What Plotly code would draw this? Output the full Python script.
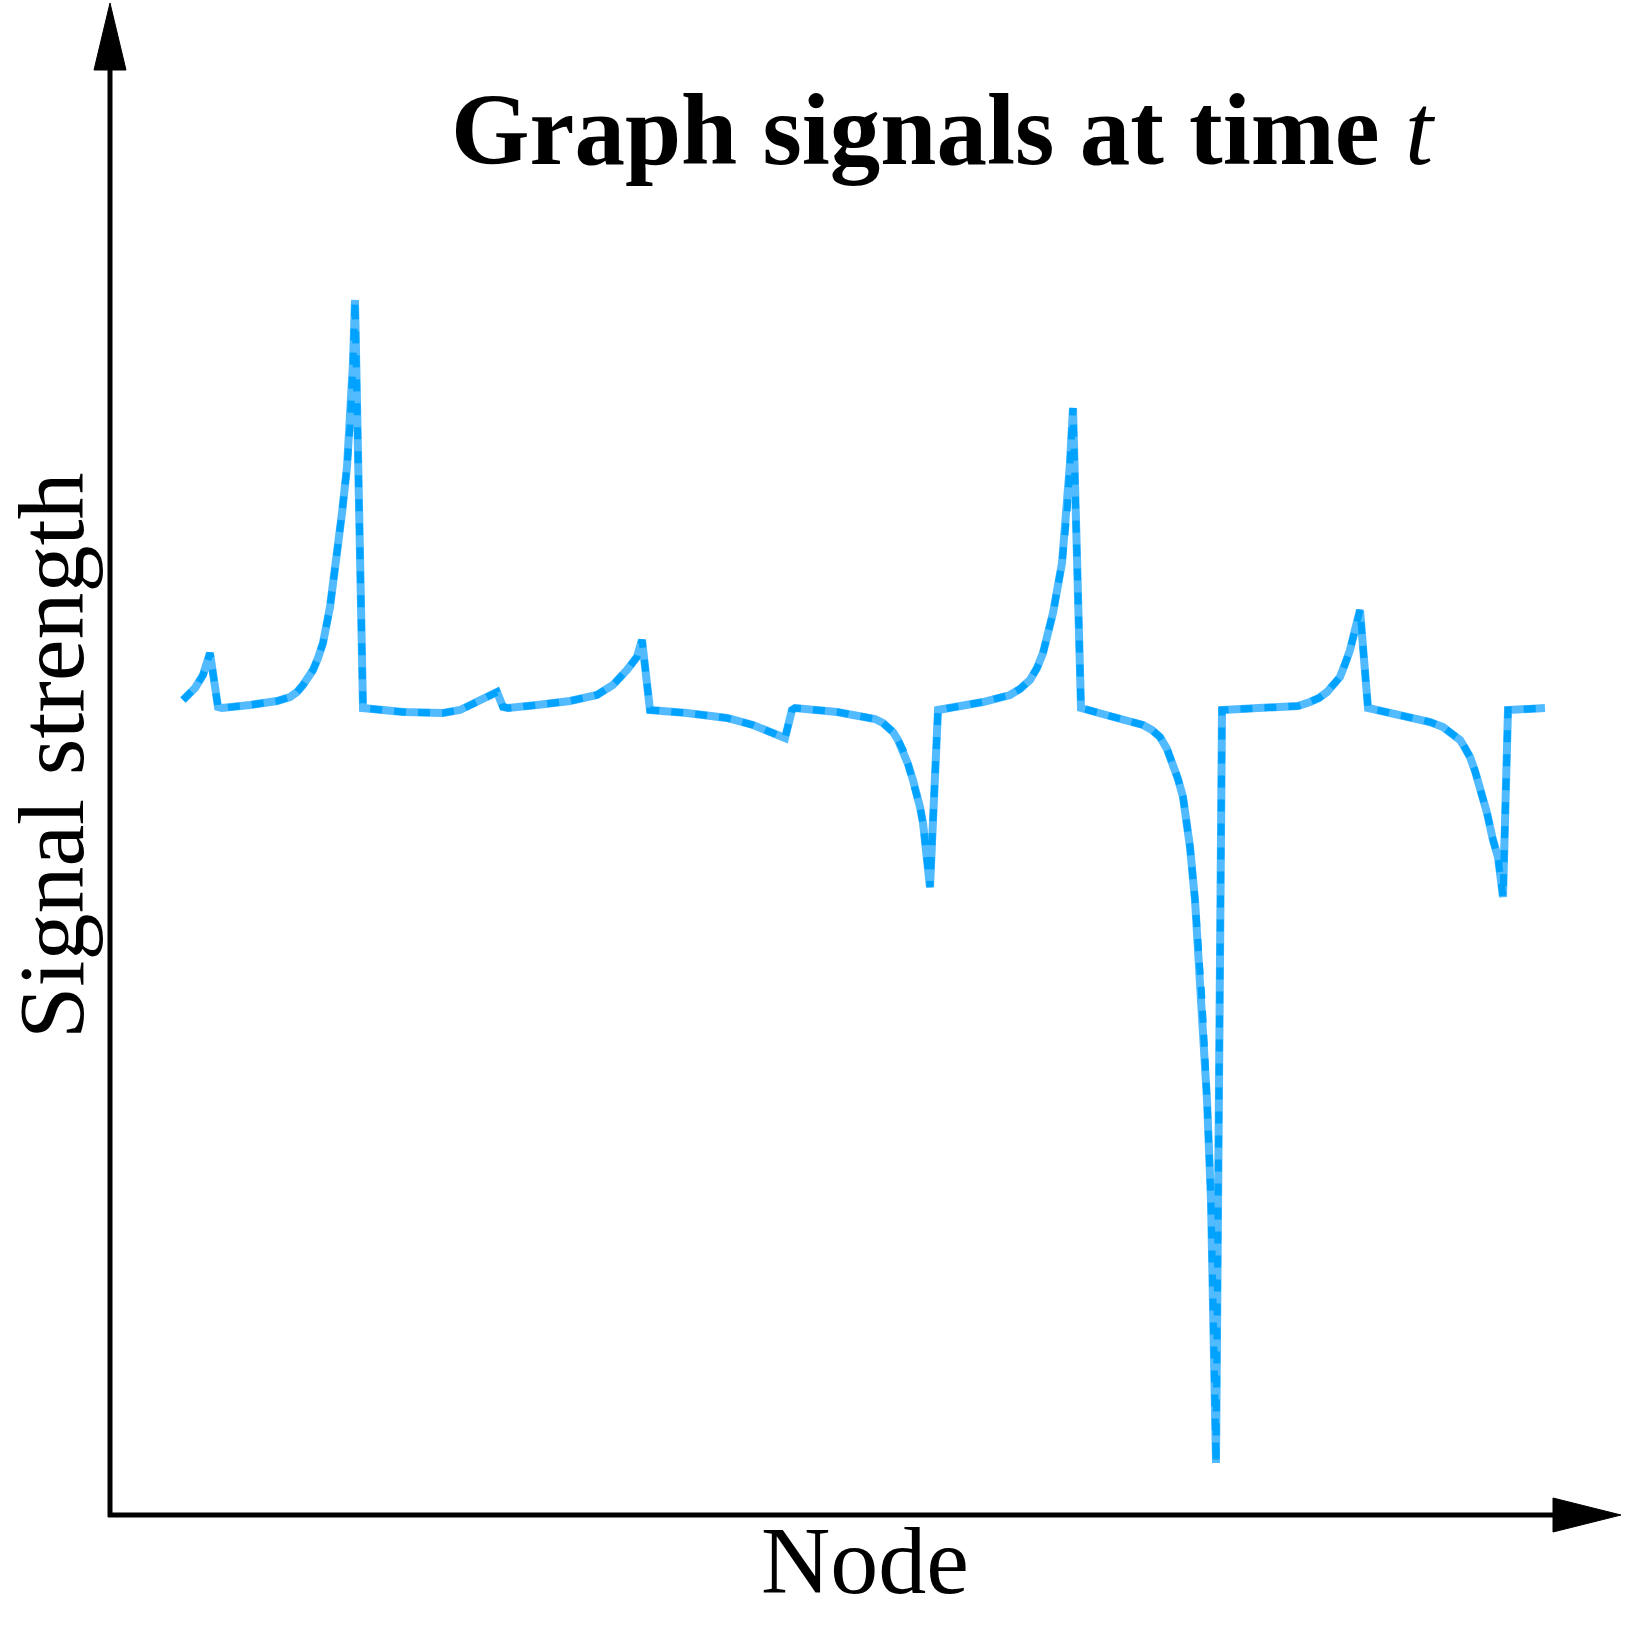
import plotly.graph_objects as go

# ---- data (node position, signal strength) ----
node = [7.3, 8.5, 9.3, 10.0, 10.8, 11.2, 14.0, 16.7, 18.0, 18.7, 19.3, 19.8, 20.3, 20.8, 21.3,
        22.0, 22.7, 23.2, 23.7, 24.0, 24.3, 24.5, 25.3, 29.3, 33.3, 35.0, 36.7, 38.7, 39.3,
        39.8, 42.7, 46.0, 48.7, 50.3, 51.7, 52.7, 53.2, 54.0, 57.7, 61.7, 64.3, 65.7, 67.5,
        68.2, 68.5, 72.7, 75.7, 76.5, 77.3, 77.8, 78.3, 78.8, 79.3, 79.8, 80.3, 80.7, 81.0,
        81.3, 81.5, 81.8, 82.0, 82.8, 87.3, 90.0, 91.0, 92.0, 92.7, 93.3, 93.8, 94.3, 95.2,
        95.7, 96.0, 96.3, 97.1, 100.7, 102.0, 103.3, 104.2, 105.0, 105.7, 106.3, 106.8, 107.3,
        107.7, 108.0, 108.5, 109.2, 109.7, 110.1, 110.3, 110.5, 110.6, 111.2, 117.3, 118.8,
        120.0, 120.9, 121.7, 122.4, 123.0, 123.5, 124.0, 124.5, 125.0, 125.8, 130.7, 132.0,
        133.3, 134.2, 135.0, 135.5, 136.0, 136.5, 137.0, 137.7, 138.3, 138.8, 139.3, 139.8,
        143.5]
signal = [0.8, 2.0, 3.3, 5.5, 0.1, 0.0, 0.3, 0.7, 1.1, 1.6, 2.3, 3.0, 3.8, 5.0, 6.5,
          10.1, 15.1, 19.5, 24.1, 28.1, 34.5, 40.8, 0.0, -0.4, -0.5, -0.2, 0.6, 1.6, 0.1,
          0.0, 0.3, 0.7, 1.3, 2.3, 3.8, 5.1, 6.8, -0.2, -0.5, -1.0, -1.7, -2.2, -3.0,
          -0.2, 0.0, -0.4, -0.9, -1.1, -1.5, -1.9, -2.4, -3.2, -4.2, -5.6, -7.2, -8.5, -9.9,
          -11.5, -13.2, -15.4, -17.9, -0.2, 0.6, 1.3, 1.9, 2.8, 4.0, 5.5, 7.4, 9.5, 14.5,
          19.5, 24.5, 30.0, 0.0, -1.0, -1.3, -1.7, -2.2, -2.9, -4.1, -5.5, -7.1, -8.9,
          -11.2, -13.9, -19.2, -29.2, -39.2, -49.2, -59.2, -69.2, -75.5, -0.2, 0.0, 0.2,
          0.6, 1.0, 1.6, 2.3, 3.1, 4.4, 5.8, 7.8, 9.8, 0.0, -1.0, -1.4,
          -1.9, -2.5, -3.2, -4.0, -4.9, -6.3, -7.9, -10.5, -13.2, -14.9, -18.9, -0.2,
          0.0]

title_text = "<b>Graph signals at time </b><i>t</i>"
x_title = "Node"
y_title = "Signal strength"

W = H = 1625
FONT = "Liberation Serif"

fig = go.Figure()
fig.add_trace(go.Scatter(x=node, y=signal, mode="lines",
                         line=dict(color="#52BAFE", width=8), hoverinfo="skip"))
fig.add_trace(go.Scatter(x=node, y=signal, mode="lines",
                         line=dict(color="#00A2FF", width=7, dash="12px,12px"), hoverinfo="skip"))


def px(x):
    return x / W


def py(y):
    return 1 - y / H


shapes = [
    # y axis line
    dict(type="line", xref="paper", yref="paper", x0=px(110), y0=py(1517), x1=px(110), y1=py(20),
         line=dict(color="black", width=5)),
    # x axis line
    dict(type="line", xref="paper", yref="paper", x0=px(108), y0=py(1515), x1=px(1560), y1=py(1515),
         line=dict(color="black", width=5)),
    # y arrow head
    dict(type="path", xref="paper", yref="paper",
         path=f"M {px(110)} {py(3)} L {px(126)} {py(70)} L {px(94)} {py(70)} Z",
         fillcolor="black", line=dict(color="black", width=1)),
    # x arrow head
    dict(type="path", xref="paper", yref="paper",
         path=f"M {px(1621)} {py(1515)} L {px(1553)} {py(1498)} L {px(1553)} {py(1532)} Z",
         fillcolor="black", line=dict(color="black", width=1)),
]

annotations = [
    dict(text=title_text, xref="paper", yref="paper", x=px(944), y=py(130), showarrow=False,
         xanchor="center", yanchor="middle", font=dict(family=FONT, size=101, color="black")),
    dict(text=x_title, xref="paper", yref="paper", x=px(865), y=py(1560), showarrow=False,
         xanchor="center", yanchor="middle", font=dict(family=FONT, size=96, color="black")),
    dict(text=y_title, xref="paper", yref="paper", x=px(51), y=py(756), showarrow=False,
         textangle=-90, xanchor="center", yanchor="middle",
         font=dict(family=FONT, size=94, color="black")),
]

fig.update_layout(
    width=W, height=H,
    margin=dict(l=0, r=0, t=0, b=0),
    paper_bgcolor="white", plot_bgcolor="white",
    showlegend=False,
    xaxis=dict(range=[-11, 151.5], visible=False, fixedrange=True),
    yaxis=dict(range=[-91.7, 70.8], visible=False, fixedrange=True),
    shapes=shapes,
    annotations=annotations,
)

fig.write_html("out.html", config={"displayModeBar": False},
               post_script="document.body.style.margin='0';document.body.style.overflow='hidden';")
